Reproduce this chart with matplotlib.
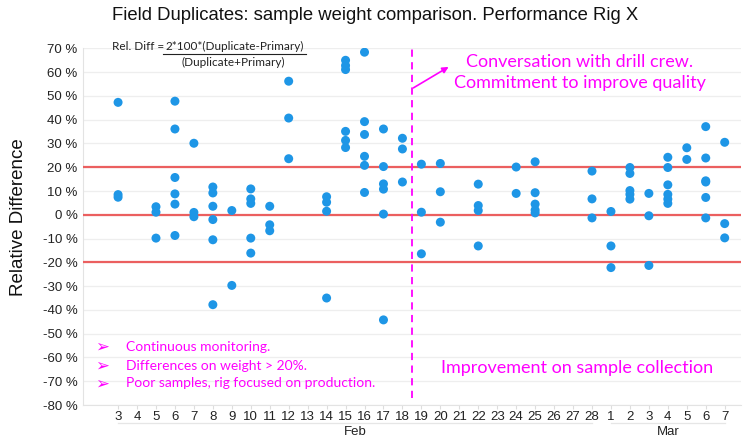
import matplotlib
matplotlib.use("Agg")
import matplotlib.pyplot as plt
import matplotlib.transforms as mtrans
from matplotlib.lines import Line2D
import pandas as pd

# ---------------- data ----------------
title = "Field Duplicates: sample weight comparison. Performance Rig X"
y_label = "Relative Difference"
formula_left = "Rel. Diff = "
formula_num = "2*100*(Duplicate-Primary)"
formula_den = "(Duplicate+Primary)"

sample_days = ["2023-02-03", "2023-02-05", "2023-02-06", "2023-02-07", "2023-02-08",
               "2023-02-09", "2023-02-10", "2023-02-11", "2023-02-12", "2023-02-14",
               "2023-02-15", "2023-02-16", "2023-02-17", "2023-02-18", "2023-02-19",
               "2023-02-20", "2023-02-22", "2023-02-24", "2023-02-25", "2023-02-28",
               "2023-03-01", "2023-03-02", "2023-03-03", "2023-03-04", "2023-03-05",
               "2023-03-06", "2023-03-07"]
rel_diff = [
    [47.3, 8.5, 7.4],
    [3.4, 1.1, -9.8],
    [47.8, 36.1, 15.7, 8.8, 4.5, -8.7],
    [30.1, 1.0, -0.8],
    [11.7, 9.2, 3.6, -2.0, -10.5, -37.8],
    [1.8, -29.7],
    [10.9, 6.7, 4.8, -9.8, -16.1],
    [3.6, -4.2, -6.7],
    [56.2, 40.7, 23.6],
    [7.6, 5.3, 1.5, -35.0],
    [65.0, 62.8, 61.1, 35.1, 31.3, 28.3],
    [68.4, 39.2, 33.8, 24.6, 20.8, 9.4],
    [36.1, 20.3, 13.0, 10.8, 0.3, -44.2],
    [32.2, 27.7, 13.8],
    [21.3, 1.1, -16.4],
    [21.6, 9.7, -3.1],
    [12.9, 3.9, 1.8, -13.1],
    [20.1, 9.0],
    [22.3, 9.3, 4.5, 2.0, 0.8],
    [18.4, 6.7, -1.3],
    [1.4, -13.1, -22.2],
    [19.9, 17.4, 10.2, 8.6, 6.6],
    [9.0, -0.4, -21.3],
    [24.2, 19.9, 12.6, 8.6, 6.6, 4.8],
    [28.2, 23.3],
    [37.1, 23.9, 14.3, 13.8, 7.3, -1.3],
    [30.5, -3.7, -9.7],
]
tick_start, tick_end = "2023-02-03", "2023-03-07"
limit_lines = [20, 0, -20]
y_ticks = list(range(-80, 71, 10))
change_day = "2023-02-18"   # dashed line drawn half a day after this

note_top = ["Conversation with drill crew.", "Commitment to improve quality"]
note_bottom = "Improvement on sample collection"
bullets = ["Continuous monitoring.",
           "Differences on weight > 20%.",
           "Poor samples, rig focused on production."]

# ---------------- helpers ----------------
origin = pd.Timestamp("2023-02-01")
def day_index(d):
    return (pd.Timestamp(d) - origin).days + 1

W, H = 750, 443
def fx(px):
    return px / W
def fy(py):
    return 1 - py / H

POINT_COLOR = "#1E96E6"
RED = "#EB5F5F"
MAGENTA = "#FF00FF"
GRID = "#EEEEEE"
TXT = "#222222"
SANS = ["Liberation Sans", "DejaVu Sans"]
CAL = ["Lato", "DejaVu Sans"]

fig = plt.figure(figsize=(W / 100, H / 100), dpi=100)
ax = fig.add_axes([fx(83), fy(405), fx(741) - fx(83), fy(48.4) - fy(405)])

xs, ys = [], []
for d, vals in zip(sample_days, rel_diff):
    for v in vals:
        xs.append(day_index(d))
        ys.append(v)
ax.scatter(xs, ys, s=42, color=POINT_COLOR, edgecolors="none", zorder=4)

for v in limit_lines:
    ax.axhline(v, color=RED, lw=1.6, zorder=3)

ax.set_ylim(-80, 70)
ax.set_xlim(1.15, 35.86)
ax.set_yticks(y_ticks)
ax.set_yticklabels([f"{t} %" for t in y_ticks], fontfamily=SANS, fontsize=9.5, color=TXT)
ax.grid(axis="y", color=GRID, lw=0.9, zorder=0)
ax.set_axisbelow(True)

tick_dates = pd.date_range(tick_start, tick_end, freq="D")
tick_x = [day_index(d) for d in tick_dates]
ax.set_xticks(tick_x)
ax.set_xticklabels([str(d.day) for d in tick_dates], fontfamily=SANS, fontsize=9.5, color=TXT)
ax.tick_params(axis="x", length=3, color="#DDDDDD", pad=1.5)
ax.tick_params(axis="y", length=0, pad=4)

for s in ["top", "right"]:
    ax.spines[s].set_visible(False)
for s in ["left", "bottom"]:
    ax.spines[s].set_color("#E3E3E3")
    ax.spines[s].set_linewidth(0.8)

# month group labels and separator lines
trans = mtrans.blended_transform_factory(ax.transData, fig.transFigure)
for month, grp in pd.Series(tick_x, index=tick_dates).groupby(tick_dates.month):
    x0, x1 = grp.min(), grp.max()
    fig.add_artist(Line2D([x0, x1], [fy(423), fy(423)], transform=trans,
                          color="#E6E6E6", lw=0.9))
    name = grp.index[0].strftime("%b")
    fig.text((x0 + x1) / 2, fy(432), name, transform=trans, ha="center", va="center",
             fontfamily=SANS, fontsize=9.5, color=TXT)

# dashed change line
cx = day_index(change_day) + 0.5
ax.plot([cx, cx], [-77, 70], color=MAGENTA, lw=1.3, ls=(0, (4, 3)), zorder=5, clip_on=False)

# title and y label
fig.text(0.5, fy(15), title, ha="center", va="center", fontfamily=SANS, fontsize=13.3, color="#111111")
fig.text(fx(19), fy(217), y_label, ha="center", va="center", rotation=90,
         fontfamily=SANS, fontsize=13.5, color="#111111")

# formula
fig.text(fx(112), fy(46), formula_left, ha="left", va="center", fontfamily=CAL, fontsize=8.5, color=TXT)
fig.text(fx(234.5), fy(46), formula_num, ha="center", va="center", fontfamily=CAL, fontsize=8.5, color=TXT)
fig.add_artist(Line2D([fx(163), fx(306)], [fy(54), fy(54)], color=TXT, lw=0.8))
fig.text(fx(233), fy(62), formula_den, ha="center", va="center", fontfamily=CAL, fontsize=8.5, color=TXT)

# magenta annotations
fig.text(fx(580), fy(61.7), note_top[0], ha="center", va="center", fontfamily=CAL, fontsize=13, color=MAGENTA)
fig.text(fx(580), fy(83.3), note_top[1], ha="center", va="center", fontfamily=CAL, fontsize=13, color=MAGENTA)
fig.add_artist(matplotlib.patches.FancyArrowPatch((fx(411), fy(89.3)), (fx(451), fy(65.5)),
               transform=fig.transFigure, arrowstyle="-|>", mutation_scale=9,
               color=MAGENTA, lw=1.2))
fig.text(fx(577), fy(368.3), note_bottom, ha="center", va="center", fontfamily=CAL, fontsize=13, color=MAGENTA)

for i, b in enumerate(bullets):
    yy = [346.7, 365.7, 383.3][i]
    fig.text(fx(95), fy(yy), "\u27a2", ha="left", va="center", fontfamily=["DejaVu Sans"],
             fontsize=12, color=MAGENTA)
    fig.text(fx(125.5), fy(yy), b, ha="left", va="center", fontfamily=CAL, fontsize=10, color=MAGENTA)

fig.savefig("out.png", dpi=100)
